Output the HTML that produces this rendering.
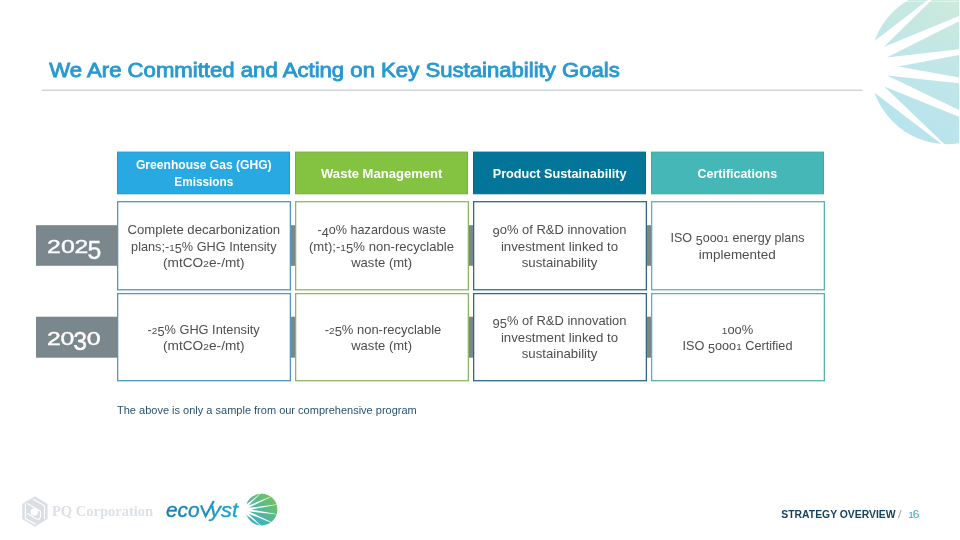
<!DOCTYPE html>
<html><head><meta charset="utf-8"><title>We Are Committed and Acting on Key Sustainability Goals</title>
<style>
html,body{margin:0;padding:0;background:#fff;}
body{width:960px;height:540px;overflow:hidden;font-family:"Liberation Sans", sans-serif;}
svg{display:block;will-change:transform;}
</style></head>
<body>
<svg width="960" height="540" viewBox="0 0 960 540">
<rect width="960" height="540" fill="#ffffff"/>
<defs>
<clipPath id="bigc"><rect x="0" y="0" width="959" height="540"/></clipPath>
<clipPath id="bigcirc"><circle cx="947.5" cy="66.8" r="77.4"/></clipPath>
<linearGradient id="bigg" gradientUnits="userSpaceOnUse" x1="880" y1="140" x2="960" y2="0">
<stop offset="0" stop-color="#b6e3ef"/><stop offset="0.55" stop-color="#c0e6e8"/><stop offset="1" stop-color="#cdeadb"/></linearGradient>
<linearGradient id="smallg" gradientUnits="userSpaceOnUse" x1="890" y1="135" x2="1010" y2="0">
<stop offset="0" stop-color="#36aed0"/><stop offset="1" stop-color="#78c25a"/></linearGradient>
<linearGradient id="ecog" gradientUnits="userSpaceOnUse" x1="166" y1="0" x2="240" y2="0">
<stop offset="0" stop-color="#1679b4"/><stop offset="1" stop-color="#1ea6d6"/></linearGradient>
</defs>
<g clip-path="url(#bigc)"><g clip-path="url(#bigcirc)" fill="url(#bigg)"><polygon points="719.0,160.4 1032.2,-80.2 1032.2,-200 519.0,-200"/><polygon points="883.7,46.9 1027.4,-93.8 1109.0,-45.2"/><polygon points="886.7,57.6 1103.0,-51.0 1103.0,32.4"/><polygon points="898.1,66.5 1080.2,32.0 1080.8,99.5"/><polygon points="887.0,75.6 1103.0,98.7 1103.0,178.8"/><polygon points="884.2,86.4 1108.6,177.3 1067.5,262.2"/><polygon points="674.3,-61.0 1076.9,248.0 674.3,348.0"/></g></g>
<rect x="900" y="0.9" width="59" height="0.7" fill="#f4fffb" opacity="0.85"/>
<text x="49.3" y="77" font-size="20.4" fill="#2799d0" font-weight="normal" font-style="normal" text-anchor="start" font-family='"Liberation Sans", sans-serif' textLength="570.5" lengthAdjust="spacingAndGlyphs" stroke="#2799d0" stroke-width="0.85">We Are Committed and Acting on Key Sustainability Goals</text>
<rect x="42" y="89.6" width="820.5" height="1.2" fill="#c5ccd2"/>
<rect x="36" y="225.2" width="660" height="40.6" fill="#7a878c"/>
<rect x="36" y="316.7" width="660" height="41" fill="#7a878c"/>
<text x="46.9" y="253.3" font-size="19" fill="#fff" stroke="#fff" stroke-width="0.4" font-family='"Liberation Sans", sans-serif' textLength="13.8" lengthAdjust="spacingAndGlyphs">2</text><text x="60.9" y="253.3" font-size="19" fill="#fff" stroke="#fff" stroke-width="0.4" font-family='"Liberation Sans", sans-serif' textLength="13.8" lengthAdjust="spacingAndGlyphs">0</text><text x="74.5" y="253.3" font-size="19" fill="#fff" stroke="#fff" stroke-width="0.4" font-family='"Liberation Sans", sans-serif' textLength="13.8" lengthAdjust="spacingAndGlyphs">2</text><text x="87.39999999999999" y="258.90000000000003" font-size="26" fill="#fff" stroke="#fff" stroke-width="0.4" font-family='"Liberation Sans", sans-serif' textLength="13.8" lengthAdjust="spacingAndGlyphs">5</text>
<text x="46.9" y="344.8" font-size="19" fill="#fff" stroke="#fff" stroke-width="0.4" font-family='"Liberation Sans", sans-serif' textLength="13.8" lengthAdjust="spacingAndGlyphs">2</text><text x="60.5" y="344.8" font-size="19" fill="#fff" stroke="#fff" stroke-width="0.4" font-family='"Liberation Sans", sans-serif' textLength="13.8" lengthAdjust="spacingAndGlyphs">0</text><text x="73.3" y="350.40000000000003" font-size="26" fill="#fff" stroke="#fff" stroke-width="0.4" font-family='"Liberation Sans", sans-serif' textLength="13.8" lengthAdjust="spacingAndGlyphs">3</text><text x="86.69999999999999" y="344.8" font-size="19" fill="#fff" stroke="#fff" stroke-width="0.4" font-family='"Liberation Sans", sans-serif' textLength="13.8" lengthAdjust="spacingAndGlyphs">0</text>
<rect x="117.5" y="152.1" width="172" height="41.7" fill="#28a9e1" stroke="#2197cf" stroke-width="1"/>
<rect x="295.5" y="152.1" width="172" height="41.7" fill="#83c341" stroke="#74b13a" stroke-width="1"/>
<rect x="473.5" y="152.1" width="172" height="41.7" fill="#037599" stroke="#056a8b" stroke-width="1"/>
<rect x="651.5" y="152.1" width="172" height="41.7" fill="#45b7b7" stroke="#3da8a8" stroke-width="1"/>
<text x="203.8" y="169.4" font-size="12" fill="#ffffff" font-weight="bold" font-style="normal" text-anchor="middle" font-family='"Liberation Sans", sans-serif' textLength="135.7" lengthAdjust="spacingAndGlyphs" >Greenhouse Gas (GHG)</text>
<text x="203.8" y="185.6" font-size="12" fill="#ffffff" font-weight="bold" font-style="normal" text-anchor="middle" font-family='"Liberation Sans", sans-serif' textLength="59" lengthAdjust="spacingAndGlyphs" >Emissions</text>
<text x="381.7" y="177.7" font-size="12" fill="#ffffff" font-weight="bold" font-style="normal" text-anchor="middle" font-family='"Liberation Sans", sans-serif' textLength="121.3" lengthAdjust="spacingAndGlyphs" >Waste Management</text>
<text x="559.6" y="177.7" font-size="12" fill="#ffffff" font-weight="bold" font-style="normal" text-anchor="middle" font-family='"Liberation Sans", sans-serif' textLength="133.8" lengthAdjust="spacingAndGlyphs" >Product Sustainability</text>
<text x="737.3" y="177.7" font-size="12" fill="#ffffff" font-weight="bold" font-style="normal" text-anchor="middle" font-family='"Liberation Sans", sans-serif' textLength="79.6" lengthAdjust="spacingAndGlyphs" >Certifications</text>
<rect x="117.65" y="201.7" width="172.7" height="88.1" fill="#fff" stroke="#4f98c0" stroke-width="1.3"/>
<rect x="117.65" y="293.6" width="172.7" height="87.1" fill="#fff" stroke="#4f98c0" stroke-width="1.3"/>
<rect x="295.65" y="201.7" width="172.7" height="88.1" fill="#fff" stroke="#8cb766" stroke-width="1.3"/>
<rect x="295.65" y="293.6" width="172.7" height="87.1" fill="#fff" stroke="#8cb766" stroke-width="1.3"/>
<rect x="473.65" y="201.7" width="172.7" height="88.1" fill="#fff" stroke="#2f6a85" stroke-width="1.3"/>
<rect x="473.65" y="293.6" width="172.7" height="87.1" fill="#fff" stroke="#2f6a85" stroke-width="1.3"/>
<rect x="651.65" y="201.7" width="172.7" height="88.1" fill="#fff" stroke="#62afaf" stroke-width="1.3"/>
<rect x="651.65" y="293.6" width="172.7" height="87.1" fill="#fff" stroke="#62afaf" stroke-width="1.3"/>
<text x="127.5" y="234.0" font-size="12.6" fill="#4d4d4d" font-weight="normal" font-style="normal" text-anchor="start" font-family='"Liberation Sans", sans-serif' textLength="152.6" lengthAdjust="spacingAndGlyphs" >Complete decarbonization</text>
<text x="131.1" y="250.5" font-size="12.6" fill="#4d4d4d" font-weight="normal" font-style="normal" text-anchor="start" font-family='"Liberation Sans", sans-serif' textLength="145.4" lengthAdjust="spacingAndGlyphs" >plans;-<tspan font-size="9.83">1</tspan><tspan dy="2.52">5</tspan><tspan dy="-2.52">%</tspan> GHG Intensity</text>
<text x="163.0" y="267.0" font-size="12.6" fill="#4d4d4d" font-weight="normal" font-style="normal" text-anchor="start" font-family='"Liberation Sans", sans-serif' textLength="81.6" lengthAdjust="spacingAndGlyphs" >(mtCO<tspan font-size="9.83">2</tspan>e-/mt)</text>
<text x="317.5" y="234.0" font-size="12.6" fill="#4d4d4d" font-weight="normal" font-style="normal" text-anchor="start" font-family='"Liberation Sans", sans-serif' textLength="128.5" lengthAdjust="spacingAndGlyphs" >-<tspan dy="2.52">4</tspan><tspan dy="-2.52">o</tspan>% hazardous waste</text>
<text x="309.0" y="250.5" font-size="12.6" fill="#4d4d4d" font-weight="normal" font-style="normal" text-anchor="start" font-family='"Liberation Sans", sans-serif' textLength="145.0" lengthAdjust="spacingAndGlyphs" >(mt);-<tspan font-size="9.83">1</tspan><tspan dy="2.52">5</tspan><tspan dy="-2.52">%</tspan> non-recyclable</text>
<text x="351.2" y="267.0" font-size="12.6" fill="#4d4d4d" font-weight="normal" font-style="normal" text-anchor="start" font-family='"Liberation Sans", sans-serif' textLength="60.9" lengthAdjust="spacingAndGlyphs" >waste (mt)</text>
<text x="492.5" y="234.0" font-size="12.6" fill="#4d4d4d" font-weight="normal" font-style="normal" text-anchor="start" font-family='"Liberation Sans", sans-serif' textLength="134.0" lengthAdjust="spacingAndGlyphs" ><tspan dy="2.52">9</tspan><tspan dy="-2.52">o</tspan>% of R&amp;D innovation</text>
<text x="500.9" y="250.5" font-size="12.6" fill="#4d4d4d" font-weight="normal" font-style="normal" text-anchor="start" font-family='"Liberation Sans", sans-serif' textLength="117.2" lengthAdjust="spacingAndGlyphs" >investment linked to</text>
<text x="521.7" y="267.0" font-size="12.6" fill="#4d4d4d" font-weight="normal" font-style="normal" text-anchor="start" font-family='"Liberation Sans", sans-serif' textLength="75.6" lengthAdjust="spacingAndGlyphs" >sustainability</text>
<text x="670.5" y="242.1" font-size="12.6" fill="#4d4d4d" font-weight="normal" font-style="normal" text-anchor="start" font-family='"Liberation Sans", sans-serif' textLength="134.0" lengthAdjust="spacingAndGlyphs" >ISO <tspan dy="2.52">5</tspan><tspan dy="-2.52">o</tspan>oo<tspan font-size="9.83">1</tspan> energy plans</text>
<text x="698.8" y="258.7" font-size="12.6" fill="#4d4d4d" font-weight="normal" font-style="normal" text-anchor="start" font-family='"Liberation Sans", sans-serif' textLength="76.9" lengthAdjust="spacingAndGlyphs" >implemented</text>
<text x="147.6" y="333.8" font-size="12.6" fill="#4d4d4d" font-weight="normal" font-style="normal" text-anchor="start" font-family='"Liberation Sans", sans-serif' textLength="112.1" lengthAdjust="spacingAndGlyphs" >-<tspan font-size="9.83">2</tspan><tspan dy="2.52">5</tspan><tspan dy="-2.52">%</tspan> GHG Intensity</text>
<text x="163.0" y="350.3" font-size="12.6" fill="#4d4d4d" font-weight="normal" font-style="normal" text-anchor="start" font-family='"Liberation Sans", sans-serif' textLength="81.6" lengthAdjust="spacingAndGlyphs" >(mtCO<tspan font-size="9.83">2</tspan>e-/mt)</text>
<text x="324.7" y="333.8" font-size="12.6" fill="#4d4d4d" font-weight="normal" font-style="normal" text-anchor="start" font-family='"Liberation Sans", sans-serif' textLength="116.6" lengthAdjust="spacingAndGlyphs" >-<tspan font-size="9.83">2</tspan><tspan dy="2.52">5</tspan><tspan dy="-2.52">%</tspan> non-recyclable</text>
<text x="351.2" y="350.3" font-size="12.6" fill="#4d4d4d" font-weight="normal" font-style="normal" text-anchor="start" font-family='"Liberation Sans", sans-serif' textLength="60.9" lengthAdjust="spacingAndGlyphs" >waste (mt)</text>
<text x="492.5" y="325.2" font-size="12.6" fill="#4d4d4d" font-weight="normal" font-style="normal" text-anchor="start" font-family='"Liberation Sans", sans-serif' textLength="134.0" lengthAdjust="spacingAndGlyphs" ><tspan dy="2.52">9</tspan><tspan dy="0.00">5</tspan><tspan dy="-2.52">%</tspan> of R&amp;D innovation</text>
<text x="500.9" y="341.7" font-size="12.6" fill="#4d4d4d" font-weight="normal" font-style="normal" text-anchor="start" font-family='"Liberation Sans", sans-serif' textLength="117.2" lengthAdjust="spacingAndGlyphs" >investment linked to</text>
<text x="521.7" y="358.2" font-size="12.6" fill="#4d4d4d" font-weight="normal" font-style="normal" text-anchor="start" font-family='"Liberation Sans", sans-serif' textLength="75.6" lengthAdjust="spacingAndGlyphs" >sustainability</text>
<text x="721.8" y="333.8" font-size="12.6" fill="#4d4d4d" font-weight="normal" font-style="normal" text-anchor="start" font-family='"Liberation Sans", sans-serif' textLength="31.4" lengthAdjust="spacingAndGlyphs" ><tspan font-size="9.83">1</tspan>oo%</text>
<text x="682.5" y="350.4" font-size="12.6" fill="#4d4d4d" font-weight="normal" font-style="normal" text-anchor="start" font-family='"Liberation Sans", sans-serif' textLength="110.0" lengthAdjust="spacingAndGlyphs" >ISO <tspan dy="2.52">5</tspan><tspan dy="-2.52">o</tspan>oo<tspan font-size="9.83">1</tspan> Certified</text>
<text x="117.0" y="413.9" font-size="11" fill="#27536e" font-weight="normal" font-style="normal" text-anchor="start" font-family='"Liberation Sans", sans-serif' textLength="299.8" lengthAdjust="spacingAndGlyphs" >The above is only a sample from our comprehensive program</text>
<text x="781.3" y="517.6" font-size="10.0" fill="#17425f" font-weight="bold" font-style="normal" text-anchor="start" font-family='"Liberation Sans", sans-serif' textLength="114.3" lengthAdjust="spacingAndGlyphs" >STRATEGY OVERVIEW</text>
<text x="898.0" y="518.4" font-size="11" fill="#a2a6aa" font-weight="normal" font-style="normal" text-anchor="start" font-family='"Liberation Sans", sans-serif' textLength="3.6" lengthAdjust="spacingAndGlyphs" >/</text>
<text x="908.2" y="517.7" font-size="8.6" fill="#3aa0d2" font-weight="normal" font-style="normal" text-anchor="start" font-family='"Liberation Sans", sans-serif' textLength="5.6" lengthAdjust="spacingAndGlyphs" >1</text>
<text x="912.8" y="517.8" font-size="11.8" fill="#3aa0d2" font-weight="normal" font-style="normal" text-anchor="start" font-family='"Liberation Sans", sans-serif' textLength="6.6" lengthAdjust="spacingAndGlyphs" >6</text>
<polygon points="34.90,496.30 22.26,503.90 22.26,519.10 34.90,526.70 47.54,519.10 47.54,503.90" fill="#dadfe4"/>
<g fill="none" stroke="#fff" stroke-width="1.1"><polyline points="25.4,503.5 25.4,518.6 36.0,524.5"/><polyline points="33.0,499.0 44.5,505.8 44.5,519.0"/><path d="M27.3,503.5 L40.5,511.2 L40.5,516 Q40.5,520.5 36,518.6 L27.3,513.5"/></g>
<circle cx="34.3" cy="512.0" r="3.7" fill="#fff"/>
<text x="52.0" y="515.7" font-size="14.6" fill="#dce1e6" font-weight="bold" font-style="normal" text-anchor="start" font-family='"Liberation Serif", serif' textLength="101.2" lengthAdjust="spacingAndGlyphs" >PQ Corporation</text>
<text x="166.0" y="516.6" font-size="21" fill="url(#ecog)" font-weight="normal" font-style="italic" text-anchor="start" font-family='"Liberation Sans", sans-serif' textLength="33.5" lengthAdjust="spacingAndGlyphs" stroke="url(#ecog)" stroke-width="0.35">eco</text>
<polyline points="201.0,505.4 205.6,516.0 213.8,501.0" fill="none" stroke="#1a8dc8" stroke-width="2.1" stroke-linejoin="miter"/>
<text x="210.0" y="516.6" font-size="21" fill="url(#ecog)" font-weight="normal" font-style="italic" text-anchor="start" font-family='"Liberation Sans", sans-serif' textLength="28.0" lengthAdjust="spacingAndGlyphs" stroke="url(#ecog)" stroke-width="0.35">yst</text>
<g transform="translate(261.5,509.6) scale(0.2054) translate(-947.5,-66.8)"><g clip-path="url(#bigcirc)" fill="url(#smallg)"><polygon points="719.0,160.4 1032.2,-80.2 1032.2,-200 519.0,-200"/><polygon points="883.7,46.9 1027.4,-93.8 1109.0,-45.2"/><polygon points="886.7,57.6 1103.0,-51.0 1103.0,32.4"/><polygon points="898.1,66.5 1080.2,32.0 1080.8,99.5"/><polygon points="887.0,75.6 1103.0,98.7 1103.0,178.8"/><polygon points="884.2,86.4 1108.6,177.3 1067.5,262.2"/><polygon points="674.3,-61.0 1076.9,248.0 674.3,348.0"/></g></g>
</svg>
</body></html>
